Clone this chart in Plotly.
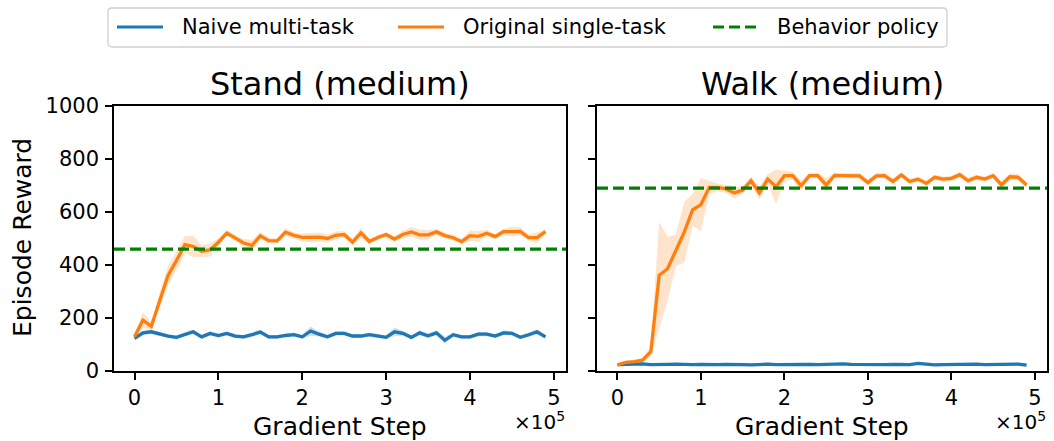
import plotly.graph_objects as go

# Training curves: mean episode reward and spread over seeds, every 1e4 gradient steps
steps = list(range(0, 500000, 10000))

stand_naive = [123, 144, 148, 139, 132, 127, 139, 148, 129, 142,
               134, 142, 132, 129, 137, 147, 129, 129, 134, 137,
               129, 151, 139, 129, 142, 142, 132, 132, 137, 132,
               127, 148, 142, 127, 144, 133, 144, 116, 137, 129,
               129, 139, 139, 132, 144, 142, 127, 137, 148, 129]
stand_naive_std = [6, 8, 8, 7, 7, 7, 8, 8, 7, 9,
                   7, 8, 7, 7, 8, 9, 7, 7, 7, 8,
                   7, 18, 9, 7, 8, 8, 7, 7, 8, 7,
                   7, 16, 9, 7, 10, 8, 10, 12, 8, 7,
                   7, 9, 8, 7, 10, 8, 7, 8, 10, 7]
stand_single = [129, 192, 169, 267, 361, 417, 477, 470, 452, 457,
                486, 520, 503, 483, 474, 510, 492, 491, 524, 512,
                504, 504, 505, 500, 512, 515, 486, 521, 489, 504,
                515, 498, 515, 525, 514, 514, 525, 511, 503, 488,
                511, 508, 520, 507, 526, 526, 527, 503, 503, 526]
stand_single_std = [10, 30, 15, 30, 35, 38, 32, 40, 22, 25,
                    15, 10, 10, 15, 20, 15, 10, 10, 15, 12,
                    15, 18, 18, 15, 15, 12, 12, 20, 10, 10,
                    10, 10, 15, 18, 20, 18, 12, 12, 10, 10,
                    20, 20, 12, 10, 12, 18, 15, 12, 20, 10]

walk_naive = [24, 26, 25, 27, 24, 23, 25, 26, 24, 24,
              25, 23, 24, 25, 26, 24, 23, 25, 26, 24,
              25, 24, 26, 25, 24, 26, 25, 27, 25, 24,
              23, 25, 24, 25, 26, 24, 29, 25, 23, 24,
              25, 24, 25, 26, 24, 25, 24, 25, 26, 22]
walk_naive_std = [4, 4, 4, 5, 4, 4, 4, 5, 4, 4,
                  4, 4, 4, 5, 4, 4, 4, 4, 5, 4,
                  4, 4, 5, 4, 4, 5, 4, 5, 4, 4,
                  4, 4, 4, 4, 5, 4, 5, 4, 4, 4,
                  4, 4, 4, 5, 4, 4, 4, 4, 5, 4]
walk_single = [23, 33, 35, 41, 73, 361, 386, 455, 524, 608,
               628, 693, 693, 687, 672, 683, 718, 672, 724, 695,
               737, 737, 699, 737, 737, 702, 738, 737, 736, 736,
               711, 736, 737, 715, 740, 715, 724, 708, 731, 724,
               727, 741, 718, 731, 724, 737, 702, 733, 731, 702]
walk_single_std = [5, 5, 6, 8, 20, 200, 120, 60, 115, 60,
                   100, 25, 15, 15, 22, 15, 15, 25, 18, 65,
                   20, 15, 20, 10, 10, 25, 10, 10, 10, 10,
                   12, 10, 10, 12, 10, 10, 10, 10, 10, 10,
                   10, 10, 12, 10, 10, 10, 15, 12, 12, 12]

behavior = [460, 690]
titles = ["Stand (medium)", "Walk (medium)"]
tick_steps = [0, 100000, 200000, 300000, 400000, 500000]
tick_text = ["0", "1", "2", "3", "4", "5"]

BLUE = "#1f77b4"
ORANGE = "#ff7f0e"
GREEN = "#008000"
FONT = "DejaVu Sans"
W, H = 1054, 441

panels = [
    dict(naive=stand_naive, naive_std=stand_naive_std,
         single=stand_single, single_std=stand_single_std),
    dict(naive=walk_naive, naive_std=walk_naive_std,
         single=walk_single, single_std=walk_single_std),
]

# panel boxes in pixels (left, right), shared top/bottom
panel_px = [(114, 566), (597, 1047)]
top_px, bottom_px = 106, 371


def px_x(p):
    return p / W


def px_y(p):
    return 1 - p / H


def rounded_box(x0, y0, x1, y1, r):
    """SVG path (paper coords) for a rectangle with rounded corners, pixel inputs."""
    pts = []
    X = lambda v: f"{px_x(v):.5f}"
    Y = lambda v: f"{px_y(v):.5f}"
    pts.append(f"M{X(x0 + r)},{Y(y0)}")
    pts.append(f"L{X(x1 - r)},{Y(y0)}")
    pts.append(f"Q{X(x1)},{Y(y0)} {X(x1)},{Y(y0 + r)}")
    pts.append(f"L{X(x1)},{Y(y1 - r)}")
    pts.append(f"Q{X(x1)},{Y(y1)} {X(x1 - r)},{Y(y1)}")
    pts.append(f"L{X(x0 + r)},{Y(y1)}")
    pts.append(f"Q{X(x0)},{Y(y1)} {X(x0)},{Y(y1 - r)}")
    pts.append(f"L{X(x0)},{Y(y0 + r)}")
    pts.append(f"Q{X(x0)},{Y(y0)} {X(x0 + r)},{Y(y0)}")
    pts.append("Z")
    return " ".join(pts)


fig = go.Figure()

for k, pan in enumerate(panels):
    xa = "x" if k == 0 else "x2"
    ya = "y" if k == 0 else "y2"
    for mean, std, col, fill in [
        (pan["naive"], pan["naive_std"], BLUE, "rgba(31,119,180,0.22)"),
        (pan["single"], pan["single_std"], ORANGE, "rgba(255,127,14,0.22)"),
    ]:
        upper = [m + s for m, s in zip(mean, std)]
        lower = [m - s for m, s in zip(mean, std)]
        fig.add_trace(go.Scatter(
            x=steps + steps[::-1], y=upper + lower[::-1],
            fill="toself", fillcolor=fill, line=dict(width=0),
            mode="lines", hoverinfo="skip", showlegend=False,
            xaxis=xa, yaxis=ya))
    for mean, col in [(pan["naive"], BLUE), (pan["single"], ORANGE)]:
        fig.add_trace(go.Scatter(
            x=steps, y=mean, mode="lines",
            line=dict(color=col, width=3.3), showlegend=False,
            xaxis=xa, yaxis=ya))
    # behavior policy reference level across the full panel width
    fig.add_shape(type="line", xref=f"{xa} domain", yref=ya,
                  x0=0, x1=1, y0=behavior[k], y1=behavior[k],
                  line=dict(color=GREEN, width=3.2, dash="11px,5px"),
                  layer="above")

axis_common = dict(
    showline=True, mirror=True, linecolor="black", linewidth=1.6,
    ticks="outside", ticklen=7, tickwidth=1.6, tickcolor="black",
    showgrid=False, zeroline=False, automargin=False,
    tickfont=dict(family=FONT, size=21, color="black"),
)

for k, (l, r) in enumerate(panel_px):
    suffix = "" if k == 0 else "2"
    fig.update_layout(**{
        f"xaxis{suffix}": dict(
            axis_common, domain=[px_x(l), px_x(r)],
            range=[-24500, 514500], tickvals=tick_steps, ticktext=tick_text,
            anchor=f"y{suffix}"),
        f"yaxis{suffix}": dict(
            axis_common, domain=[px_y(bottom_px), px_y(top_px)],
            range=[0, 1000], tickvals=[0, 200, 400, 600, 800, 1000],
            showticklabels=(k == 0), ticklabelstandoff=2,
            anchor=f"x{suffix}"),
    })

annotations = []
for k, (l, r) in enumerate(panel_px):
    cx = px_x((l + r) / 2)
    annotations.append(dict(text=titles[k], x=cx, y=px_y(84),
                            xref="paper", yref="paper", showarrow=False,
                            xanchor="center", yanchor="middle",
                            font=dict(family=FONT, size=32, color="black")))
    annotations.append(dict(text="Gradient Step", x=cx, y=px_y(426),
                            xref="paper", yref="paper", showarrow=False,
                            xanchor="center", yanchor="middle",
                            font=dict(family=FONT, size=25, color="black")))
    annotations.append(dict(text="×10<sup>5</sup>", x=px_x(r + 1), y=px_y(421),
                            xref="paper", yref="paper", showarrow=False,
                            xanchor="right", yanchor="middle",
                            font=dict(family=FONT, size=20, color="black")))
annotations.append(dict(text="Episode Reward", x=px_x(22), y=px_y(238),
                        xref="paper", yref="paper", showarrow=False,
                        textangle=-90, xanchor="center", yanchor="middle",
                        font=dict(family=FONT, size=25, color="black")))

# legend drawn as a framed row of line handles and labels
legend_items = [
    ("Naive multi-task", BLUE, "solid", 117, 163, 180),
    ("Original single-task", ORANGE, "solid", 398, 444, 461),
    ("Behavior policy", GREEN, "11px,5px", 713, 757, 775),
]
legend_y = 27
fig.add_shape(type="path", xref="paper", yref="paper",
              path=rounded_box(108, 8, 947, 47, 4),
              line=dict(color="#d0d0d0", width=1.3), fillcolor="white",
              layer="above")
for label, col, dash, h0, h1, tx in legend_items:
    fig.add_shape(type="line", xref="paper", yref="paper",
                  x0=px_x(h0), x1=px_x(h1), y0=px_y(legend_y), y1=px_y(legend_y),
                  line=dict(color=col, width=3.2, dash=dash), layer="above")
    annotations.append(dict(text=label, x=px_x(tx), y=px_y(legend_y),
                            xref="paper", yref="paper", showarrow=False,
                            xanchor="left", yanchor="middle",
                            font=dict(family=FONT, size=21, color="black")))

fig.update_layout(
    width=W, height=H, margin=dict(l=0, r=0, t=0, b=0),
    paper_bgcolor="white", plot_bgcolor="white",
    showlegend=False, annotations=annotations,
    font=dict(family=FONT, color="black"),
)

fig.write_html("out.html")
